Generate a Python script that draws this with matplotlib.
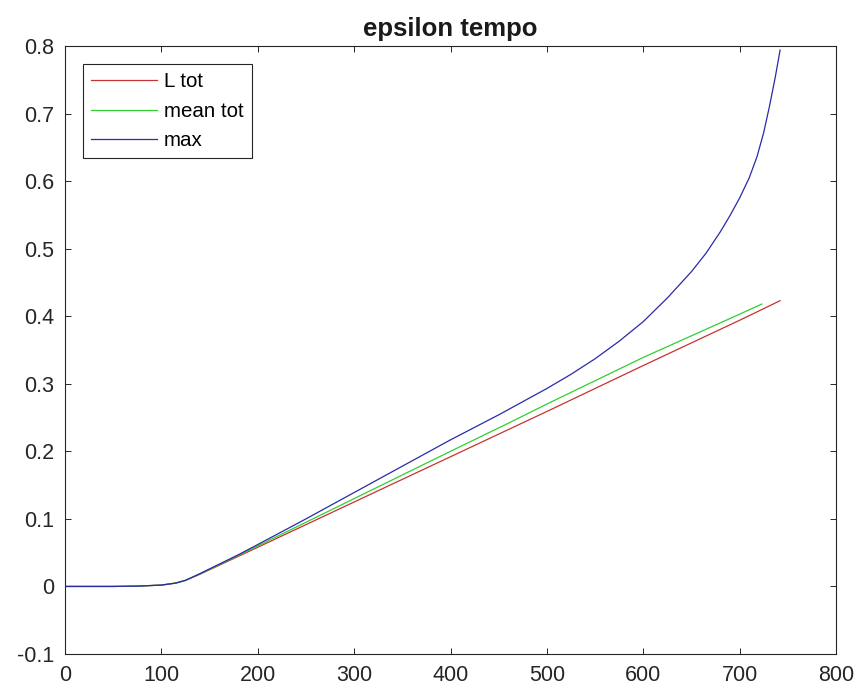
import matplotlib
matplotlib.use("Agg")
import matplotlib.pyplot as plt

# ---- data ----
x_ltot = [0, 25, 50, 75, 100, 115, 125, 140, 200, 300, 400, 500, 600, 700, 742]
y_ltot = [0, 0, 0, 0.0005, 0.002, 0.005, 0.009, 0.018, 0.058, 0.125, 0.192, 0.259, 0.327, 0.394, 0.423]

x_mean = [0, 25, 50, 75, 100, 115, 125, 140, 200, 300, 400, 462, 500, 600, 700, 723]
y_mean = [0, 0, 0, 0.0005, 0.002, 0.005, 0.009, 0.0185, 0.060, 0.130, 0.200, 0.243, 0.270, 0.339, 0.403, 0.418]

x_max = [0, 25, 50, 75, 100, 115, 125, 140, 160, 180, 200, 250, 300, 350, 400, 450, 500, 525,
         550, 575, 600, 625, 650, 665, 680, 690, 700, 710, 718, 725, 731, 737, 742]
y_max = [0, 0, 0, 0.0005, 0.002, 0.005, 0.009, 0.019, 0.033, 0.047, 0.062, 0.100, 0.139, 0.178,
         0.217, 0.254, 0.293, 0.314, 0.337, 0.363, 0.392, 0.427, 0.466, 0.493, 0.525, 0.549,
         0.575, 0.605, 0.636, 0.672, 0.711, 0.754, 0.794]

labels = ["L tot", "mean tot", "max"]
colors = ["#c83232", "#30d030", "#2a2aa8"]
title = "epsilon tempo"
xticks = [0, 100, 200, 300, 400, 500, 600, 700, 800]
yticks = [-0.1, 0, 0.1, 0.2, 0.3, 0.4, 0.5, 0.6, 0.7, 0.8]

plt.rcParams["font.family"] = ["Liberation Sans", "DejaVu Sans"]

fig = plt.figure(figsize=(8.59, 6.90), dpi=100)
ax = fig.add_axes([65 / 859, 36 / 690, (836 - 65) / 859, (654 - 46) / 690])

ax.plot(x_ltot, y_ltot, color=colors[0], lw=0.9, label=labels[0])
ax.plot(x_mean, y_mean, color=colors[1], lw=0.9, label=labels[1])
ax.plot(x_max, y_max, color=colors[2], lw=0.9, label=labels[2])

ax.set_xlim(0, 800)
ax.set_ylim(-0.1, 0.8)
ax.set_xticks(xticks)
ax.set_yticks(yticks)
ax.set_xticklabels([str(v) for v in xticks])
ax.set_yticklabels(["-0.1", "0", "0.1", "0.2", "0.3", "0.4", "0.5", "0.6", "0.7", "0.8"])

ax.tick_params(direction="in", length=4.3, width=0.7, top=True, right=True,
               labelsize=15.5, pad=8, colors="#262626")
for s in ax.spines.values():
    s.set_linewidth(0.8)
    s.set_color("#262626")

ax.set_title(title, fontsize=18.5, fontweight="bold", pad=7, color="#1a1a1a")

leg = ax.legend(loc="upper left", bbox_to_anchor=(0.023, 0.970), borderaxespad=0,
                fontsize=14.8, handlelength=3.2, handletextpad=0.35, labelspacing=0.5,
                borderpad=0.4, fancybox=False, framealpha=1, edgecolor="#262626")
leg.get_frame().set_linewidth(0.8)

fig.savefig("out.png", dpi=100)
